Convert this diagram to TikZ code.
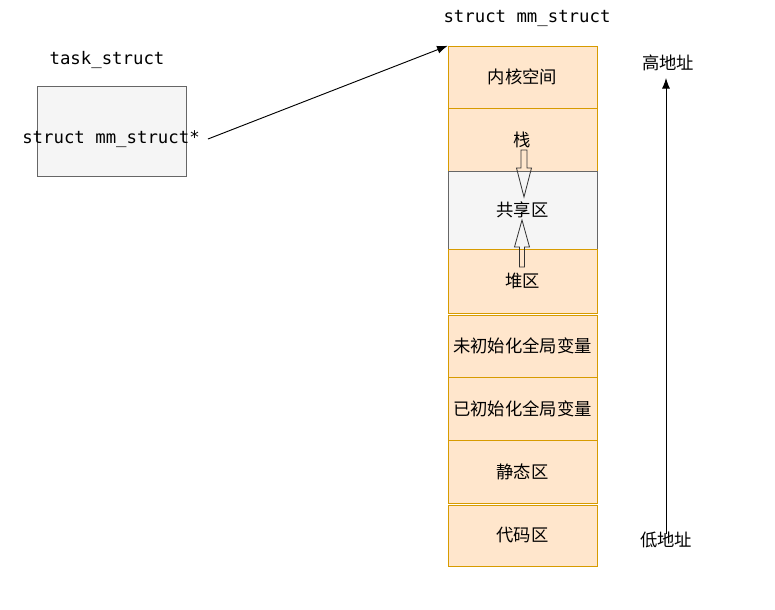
\documentclass[tikz,border=0pt]{standalone}
\usepackage{fontspec}
\setmonofont{DejaVu Sans Mono}
\newfontfamily\cjk{Noto Sans CJK SC}
\usetikzlibrary{arrows.meta,positioning}
\usepackage{xcolor}
\definecolor{segfill}{HTML}{FFE6CC}
\definecolor{segline}{HTML}{D79B00}
\definecolor{grayfill}{HTML}{F5F5F5}
\definecolor{grayline}{HTML}{666666}

\tikzset{
  seg/.style={draw=segline,fill=segfill,minimum width=111.75pt,inner sep=0pt,font=\cjk\fontsize{13}{15}\selectfont},
  gseg/.style={seg,draw=grayline,fill=grayfill},
  code/.style={font=\ttfamily\fontsize{13}{15}\selectfont,inner sep=1pt},
  addr/.style={font=\cjk\fontsize{13}{15}\selectfont,inner sep=1pt},
  blockarrow/.style={draw=black!80,line width=0.6pt,line join=miter}
}

\begin{document}
\begin{tikzpicture}[x=0.75pt,y=-0.75pt]
  \useasboundingbox (0,0) rectangle (775,610);

  % task_struct
  \node[code] (tasklabel) at (107,60) {task\_struct};
  \node[draw=grayline,fill=grayfill,minimum width=111.75pt,minimum height=67.5pt,inner sep=0pt] (task) at (111.5,131) {};
  \node[code] (ptr) at (111,139) {struct mm\_struct*};

  % mm_struct layout
  \node[code] (mmlabel) at (527,18) {struct mm\_struct};
  \node[seg,minimum height=46.5pt] (kern) at (522.5,77) {内核空间};
  \node[seg,minimum height=47.25pt] (stack) at (522.5,139.5) {栈};
  \node[gseg,minimum height=58.5pt] (shared) at (522.5,210) {共享区};
  \node[seg,minimum height=48pt] (heap) at (522.5,281) {堆区};
  \node[seg,minimum height=46.5pt] (bss) at (522.5,346) {未初始化全局变量};
  \node[seg,minimum height=47.25pt] (data) at (522.5,408.5) {已初始化全局变量};
  \node[seg,minimum height=47.25pt] (static) at (522.5,471.5) {静态区};
  \node[seg,minimum height=45.75pt] (text) at (522.5,535.5) {代码区};

  % growth arrows
  \draw[blockarrow] (521,150) -- (527,150) -- (527,168) -- (531.5,168) -- (524,197)
    -- (516.5,168) -- (521,168) -- cycle;
  \draw[blockarrow] (519.5,267) -- (524.5,267) -- (524.5,247) -- (529.5,247) -- (522,220)
    -- (514.5,247) -- (519.5,247) -- cycle;

  \draw[-{Latex[length=8pt,width=6pt]},line width=0.7pt] ([xshift=5pt]ptr.east) -- (kern.north west);

  % address direction
  \node[addr] (hi) at (668,63) {高地址};
  \node[addr] (lo) at (666,540) {低地址};
  \draw[-{Latex[length=8pt,width=6pt]},line width=0.7pt] ([yshift=-3pt]lo.north) -- ([yshift=-4pt]lo.north |- hi.south);
\end{tikzpicture}
\end{document}
